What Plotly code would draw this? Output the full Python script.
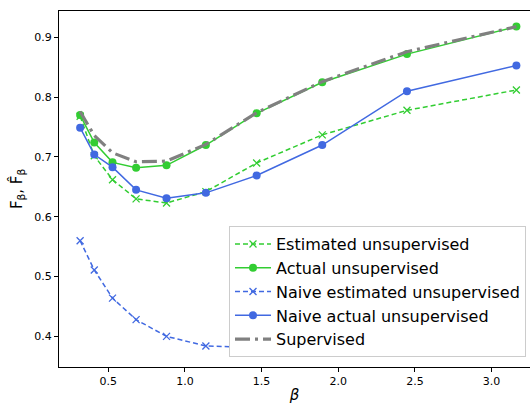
import numpy as np
import plotly.graph_objects as go

beta = [0.3162, 0.4084, 0.5275, 0.6813, 0.8799, 1.1365, 1.4678, 1.8957, 2.4484, 3.1623]

est_unsup = [0.768, 0.702, 0.662, 0.630, 0.623, 0.642, 0.690, 0.737, 0.778, 0.812]
act_unsup = [0.770, 0.724, 0.691, 0.682, 0.686, 0.720, 0.773, 0.825, 0.872, 0.918]
naive_est = [0.560, 0.511, 0.464, 0.428, 0.400, 0.384, 0.381, 0.379, 0.378, 0.378]
naive_act = [0.749, 0.704, 0.683, 0.645, 0.631, 0.640, 0.669, 0.720, 0.810, 0.853]
supervised = [0.776, 0.736, 0.707, 0.692, 0.693, 0.721, 0.774, 0.826, 0.876, 0.918]

GREEN = "#32CD32"
BLUE = "#4169E1"
GRAY = "#808080"

fig = go.Figure()
fig.add_trace(go.Scatter(x=beta, y=est_unsup, mode="lines+markers", name="Estimated unsupervised",
                         line=dict(color=GREEN, width=1.5, dash="5px,3px"),
                         marker=dict(symbol="x-thin", size=7, line=dict(color=GREEN, width=1.3))))
fig.add_trace(go.Scatter(x=beta, y=act_unsup, mode="lines+markers", name="Actual unsupervised",
                         line=dict(color=GREEN, width=1.5),
                         marker=dict(symbol="circle", size=8, color=GREEN)))
fig.add_trace(go.Scatter(x=beta, y=naive_est, mode="lines+markers", name="Naive estimated unsupervised",
                         line=dict(color=BLUE, width=1.5, dash="5px,3px"),
                         marker=dict(symbol="x-thin", size=7, line=dict(color=BLUE, width=1.3))))
fig.add_trace(go.Scatter(x=beta, y=naive_act, mode="lines+markers", name="Naive actual unsupervised",
                         line=dict(color=BLUE, width=1.5),
                         marker=dict(symbol="circle", size=8, color=BLUE)))
fig.add_trace(go.Scatter(x=beta, y=supervised, mode="lines", name="Supervised",
                         line=dict(color=GRAY, width=3.2, dash="15px,5px,3px,5px")))

fig.update_layout(
    width=530, height=405,
    margin=dict(l=59, r=0, t=11, b=38, autoexpand=False),
    paper_bgcolor="white", plot_bgcolor="white",
    font=dict(family="DejaVu Sans", size=11, color="black"),
    showlegend=True,
    legend=dict(x=0.9915, y=0.028, xanchor="right", yanchor="bottom",
                bgcolor="white", bordercolor="#cccccc", borderwidth=1,
                font=dict(size=16, family="DejaVu Sans", color="black"),
                tracegroupgap=0, itemwidth=36),
    xaxis=dict(range=[0.1784, 3.251], tickvals=[0.5, 1.0, 1.5, 2.0, 2.5, 3.0],
               ticktext=["0.5", "1.0", "1.5", "2.0", "2.5", "3.0"], automargin=False,
               showgrid=False, zeroline=False, showline=True, linecolor="black", linewidth=1,
               mirror=True, ticks="outside", ticklen=4, tickcolor="black",
               title=dict(text="<i>β</i>", font=dict(size=15), standoff=2)),
    yaxis=dict(range=[0.3488, 0.9441], tickvals=[0.4, 0.5, 0.6, 0.7, 0.8, 0.9],
               ticktext=["0.4", "0.5", "0.6", "0.7", "0.8", "0.9"], automargin=False,
               showgrid=False, zeroline=False, showline=True, linecolor="black", linewidth=1,
               ticks="outside", ticklen=4, tickcolor="black",
               title=dict(text="F<sub>β</sub>, F\u0302<sub>β</sub>", font=dict(size=15), standoff=8)),
)

fig.write_html("out.html", config={"displayModeBar": False},
               post_script="document.body.style.margin='0px';document.body.style.overflow='hidden';")
